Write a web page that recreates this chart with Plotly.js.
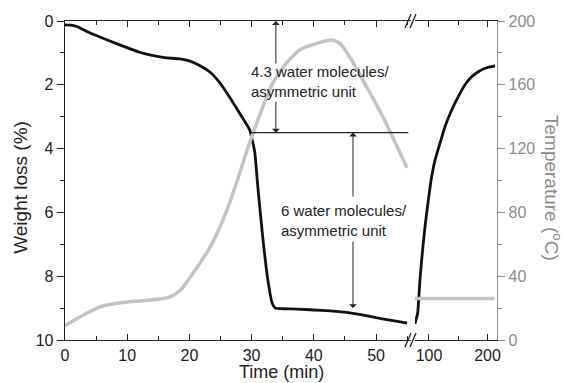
<!DOCTYPE html>
<html>
<head>
<meta charset="utf-8">
<script src="https://cdn.plot.ly/plotly-3.0.1.min.js"></script>
<style>html,body{margin:0;padding:0;background:#fff;}#chart{width:566px;height:383px;}</style>
</head>
<body>
<div id="chart"></div>
<script>
// ---- Data ----
// Segment 1 (0–55 min): weight loss (%)
const timeSeg1   = [0, 1, 2, 3.5, 5.6, 8.8, 12, 14, 16, 18.5, 20.1, 21.7, 23.3, 24.9, 26.5, 28.1, 29.7, 30.5, 31, 31.8, 32.6, 33.3, 33.8, 35, 37.3, 40, 42.6, 45.8, 48, 50, 52, 53.9, 55];
const weightSeg1 = [0.12, 0.13, 0.18, 0.33, 0.5, 0.75, 0.98, 1.08, 1.15, 1.19, 1.26, 1.4, 1.6, 1.94, 2.4, 2.9, 3.42, 4.1, 5.2, 6.8, 8.1, 8.84, 9.0, 9.02, 9.03, 9.06, 9.09, 9.15, 9.22, 9.3, 9.37, 9.43, 9.47];
// Segment 1: temperature (°C)
const timeTempSeg1 = [0, 2.4, 5.6, 8.8, 12, 15.3, 16.9, 18.5, 20.6, 23.3, 25.9, 27.7, 29.7, 31.5, 33.4, 35.7, 37.8, 40.5, 43.1, 44.2, 46.3, 48.6, 51.1, 53.9, 55];
const tempSeg1     = [9, 14.4, 20.7, 23.2, 24.5, 25.7, 27, 31, 42, 58, 80, 100, 124, 143, 161, 174, 182, 186, 188, 186, 174, 158, 140, 117, 108];
// Segment 2 (after the axis break)
const timeSeg2   = [76.1, 77.8, 80.7, 84.6, 88.6, 93.2, 98.9, 104.6, 110.3, 118.8, 127.4, 138.8, 150.1, 161.5, 172.9, 184.3, 195.7, 207.2, 212.8];
const weightSeg2 = [9.5, 9.37, 9.16, 8.12, 7.28, 6.45, 5.61, 4.88, 4.36, 3.83, 3.31, 2.79, 2.37, 2.0, 1.75, 1.59, 1.48, 1.43, 1.41];
const timeTempSeg2 = [76, 212];
const tempSeg2     = [26, 26];

// Annotation values
const stepLevel = 3.5;            // weight level of the horizontal reference line
const stepLineTimes = [29.7, 55.2];
const arrow1Time = 33.9, arrow1Top = 0, arrow1Gap = [1.38, 2.48];
const arrow2Time = 46.3, arrow2Bottom = 9.0, arrow2Gap = [5.55, 6.87];
const label1 = "4.3 water molecules/<br>asymmetric unit";
const label2 = "6 water molecules/<br>asymmetric unit";

const FONT = "Liberation Sans, Arial, sans-serif";
const BLACK = "#111111";
const GRAYLINE = "#c3c3c3";
const GRAYAX = "#8c8c8c";

const traces = [
  {x: timeTempSeg1, y: tempSeg1, xaxis: 'x', yaxis: 'y2', mode: 'lines', line: {color: GRAYLINE, width: 3.5, shape: 'spline', smoothing: 0.8}, hoverinfo: 'skip'},
  {x: timeTempSeg2, y: tempSeg2, xaxis: 'x2', yaxis: 'y2', mode: 'lines', line: {color: GRAYLINE, width: 3.5}, hoverinfo: 'skip'},
  {x: timeSeg1, y: weightSeg1, xaxis: 'x', yaxis: 'y', mode: 'lines', line: {color: BLACK, width: 2.8, shape: 'spline', smoothing: 0.4}},
  {x: timeSeg2, y: weightSeg2, xaxis: 'x2', yaxis: 'y', mode: 'lines', line: {color: BLACK, width: 2.8, shape: 'spline', smoothing: 0.4}}
];

const tickFont = {family: FONT, size: 16, color: '#222'};
const xCommon = {
  ticks: 'inside', ticklen: 6, tickwidth: 1, tickcolor: '#222',
  showline: true, linecolor: '#222', linewidth: 1.3, mirror: 'ticks',
  showgrid: false, zeroline: false, tickfont: tickFont, anchor: 'y'
};

// paper coords helpers for break marks
function px2paperX(px){ return (px - 65) / 432; }
function px2paperY(py){ return (340 - py) / 319; }
const breakShapes = [];
[[405,411],[410,416]].forEach(function(p){
  breakShapes.push({type:'line', xref:'paper', yref:'paper', x0:px2paperX(p[0]), y0:px2paperY(347), x1:px2paperX(p[1]), y1:px2paperY(333), line:{color:'#222', width:1.3}});
  breakShapes.push({type:'line', xref:'paper', yref:'paper', x0:px2paperX(p[0]), y0:px2paperY(28), x1:px2paperX(p[1]), y1:px2paperY(14), line:{color:'#222', width:1.3}});
});

const arrowCommon = {xref:'x', yref:'y', axref:'x', ayref:'y', text:'', showarrow:true, arrowhead:1, arrowsize:1.3, arrowwidth:1, arrowcolor:'#222'};

const layout = {
  width: 566, height: 383,
  margin: {l: 65, r: 69, t: 21, b: 43, pad: 0},
  paper_bgcolor: '#fff', plot_bgcolor: '#fff',
  showlegend: false,
  xaxis: Object.assign({}, xCommon, {domain: [0, 0.8], range: [0, 55.56], tick0: 0, dtick: 10,
    minor: {tick0: 0, dtick: 5, ticks: 'inside', ticklen: 4, tickcolor: '#222', showgrid: false}}),
  xaxis2: Object.assign({}, xCommon, {domain: [0.81, 1], range: [76, 216.2], tick0: 0, dtick: 100,
    minor: {tick0: 0, dtick: 50, ticks: 'inside', ticklen: 4, tickcolor: '#222', showgrid: false}}),
  yaxis: {range: [10, 0], tick0: 0, dtick: 2, ticks: 'outside', ticklen: 7, tickcolor: '#222',
    minor: {tick0: 0, dtick: 1, ticks: 'outside', ticklen: 4, tickcolor: '#222', showgrid: false},
    showline: true, linecolor: '#222', linewidth: 1.3, showgrid: false, zeroline: false,
    tickfont: tickFont, anchor: 'x', side: 'left'},
  yaxis2: {range: [0, 200], tick0: 0, dtick: 40, ticks: 'outside', ticklen: 7, tickcolor: GRAYAX,
    minor: {tick0: 0, dtick: 20, ticks: 'outside', ticklen: 4, tickcolor: GRAYAX, showgrid: false},
    showline: true, linecolor: GRAYAX, linewidth: 1.3, showgrid: false, zeroline: false,
    tickfont: {family: FONT, size: 16, color: GRAYAX}, overlaying: 'y', side: 'right', anchor: 'x2'},
  shapes: breakShapes.concat([
    {type:'line', xref:'x', yref:'y', x0: stepLineTimes[0], x1: stepLineTimes[1], y0: stepLevel, y1: stepLevel, line:{color:'#222', width:1.2}}
  ]),
  annotations: [
    {xref:'paper', yref:'paper', x: 0.5, y: -0.101, text: 'Time (min)', showarrow:false, xanchor:'center', yanchor:'middle', borderpad:0, font:{family:FONT, size:18, color:'#222'}},
    {xref:'paper', yref:'paper', x: -0.102, y: 0.48, text: 'Weight loss (%)', textangle: -90, showarrow:false, xanchor:'center', yanchor:'middle', font:{family:FONT, size:19, color:'#222'}},
    {xref:'paper', yref:'paper', x: 1.13, y: 0.476, text: 'Temperature (<sup>o</sup>C)', textangle: 90, showarrow:false, xanchor:'center', yanchor:'middle', font:{family:FONT, size:19, color:GRAYAX}},
    {xref:'x', yref:'y', x: 29.5, y: 1.91, text: label1, showarrow:false, xanchor:'left', yanchor:'middle', align:'left', font:{family:FONT, size:15, color:'#222'}},
    {xref:'x', yref:'y', x: 34.4, y: 6.24, text: label2, showarrow:false, xanchor:'left', yanchor:'middle', align:'left', font:{family:FONT, size:15, color:'#222'}},
    Object.assign({}, arrowCommon, {x: arrow1Time, y: arrow1Top, ax: arrow1Time, ay: arrow1Gap[0]}),
    Object.assign({}, arrowCommon, {x: arrow1Time, y: stepLevel, ax: arrow1Time, ay: arrow1Gap[1]}),
    Object.assign({}, arrowCommon, {x: arrow2Time, y: stepLevel, ax: arrow2Time, ay: arrow2Gap[0]}),
    Object.assign({}, arrowCommon, {x: arrow2Time, y: arrow2Bottom, ax: arrow2Time, ay: arrow2Gap[1]})
  ]
};

Plotly.newPlot('chart', traces, layout, {staticPlot: true, displayModeBar: false});
</script>
</body>
</html>
